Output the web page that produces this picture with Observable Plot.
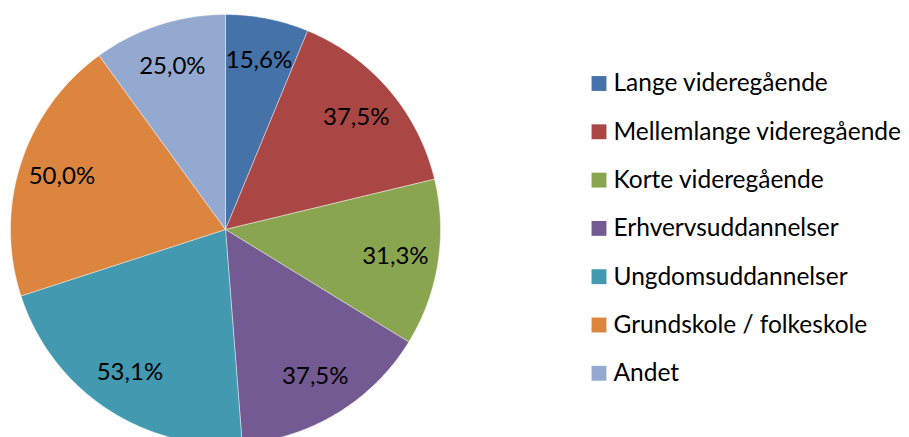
<!DOCTYPE html>
<html>
<head>
<meta charset="utf-8">
<script src="https://cdn.jsdelivr.net/npm/d3@7"></script>
<script src="https://cdn.jsdelivr.net/npm/@observablehq/plot@0.6"></script>
<style>
  html, body { margin: 0; padding: 0; background: white; overflow: hidden; }
  #chart { width: 909px; height: 437px; }
</style>
</head>
<body>
<div id="chart"></div>
<script>
// ---- data ----
const categories = [
  "Lange videregående",
  "Mellemlange videregående",
  "Korte videregående",
  "Erhvervsuddannelser",
  "Ungdomsuddannelser",
  "Grundskole / folkeskole",
  "Andet"
];
const values = [15.6, 37.5, 31.3, 37.5, 53.1, 50.0, 25.0];
const valueLabels = ["15,6%", "37,5%", "31,3%", "37,5%", "53,1%", "50,0%", "25,0%"];
const colors = ["#4572a8", "#aa4744", "#8aa54f", "#735a92", "#4399af", "#dc853f", "#94a9d0"];

// ---- layout (pixels) ----
const W = 909, H = 437;
const cx = 225, cy = 229, R = 215;
const legendSquareX = 598.5, legendTextX = 613, legendTop = 83, legendStep = 48.3;
const font = "Lato, 'Open Sans', sans-serif";

// ---- geometry from d3.pie ----
const arcs = d3.pie().sort(null).value(d => d.value)(
  categories.map((name, i) => ({name, value: values[i], label: valueLabels[i]}))
);
const slicePts = [];
arcs.forEach(a => {
  const n = Math.max(2, Math.ceil((a.endAngle - a.startAngle) / (Math.PI / 360)));
  slicePts.push({name: a.data.name, x: 0, y: 0});
  for (let k = 0; k <= n; k++) {
    const t = a.startAngle + (a.endAngle - a.startAngle) * k / n;
    slicePts.push({name: a.data.name, x: Math.sin(t), y: Math.cos(t)});
  }
  slicePts.push({name: a.data.name, x: 0, y: 0});
});
const labelPts = arcs.map(a => {
  const m = (a.startAngle + a.endAngle) / 2;
  return {label: a.data.label, x: 0.8 * Math.sin(m), y: 0.8 * Math.cos(m)};
});
// pixel -> unit helpers for the legend
const ux = px => (px - cx) / R;
const uy = py => (cy - py) / R;
const legend = categories.map((name, i) => ({name, sx: ux(legendSquareX), tx: ux(legendTextX), y: uy(legendTop + i * legendStep)}));

const plot = Plot.plot({
  width: W,
  height: H,
  margin: 0,
  style: {background: "white", overflow: "hidden"},
  x: {domain: [-1, 1], range: [cx - R, cx + R], axis: null},
  y: {domain: [-1, 1], range: [cy + R, cy - R], axis: null},
  color: {domain: categories, range: colors},
  marks: [
    Plot.line(slicePts, {x: "x", y: "y", z: "name", fill: "name", stroke: "white", strokeWidth: 0.6, strokeOpacity: 0.7}),
    Plot.text(labelPts, {x: "x", y: "y", text: "label", fontSize: 24, fontFamily: font, fill: "black"}),
    Plot.dot(legend, {x: "sx", y: "y", symbol: "square", r: 8.4, fill: "name", stroke: "none"}),
    Plot.text(legend, {x: "tx", y: "y", text: "name", textAnchor: "start", fontSize: 24.5, fontFamily: font, fill: "black"})
  ]
});
document.getElementById("chart").appendChild(plot);
</script>
</body>
</html>
